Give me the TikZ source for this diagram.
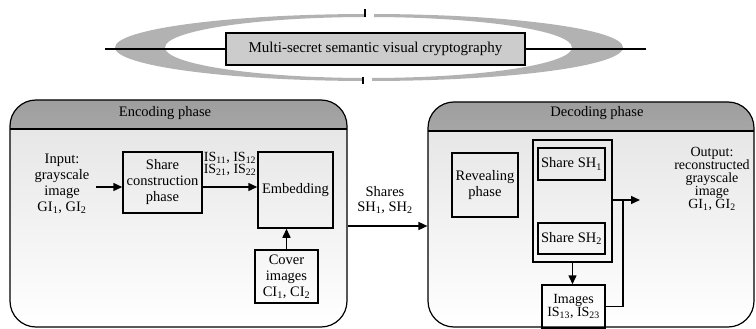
\documentclass[tikz,border=0pt]{standalone}
\usepackage{fontspec}
\setmainfont{Liberation Serif}
\usetikzlibrary{arrows.meta}

\newcommand{\lowidx}[1]{\textsubscript{#1}}

\begin{document}
\begin{tikzpicture}[
    x=1pt, y=-1pt,
    font=\fontsize{14.5}{16}\selectfont,
    box/.style={
        rectangle, draw=black, line width=1.5pt,
        align=center, inner sep=1pt
    },
    titlebox/.style={
        rectangle, draw=black, fill=black!20, line width=1.5pt,
        minimum width=299pt, minimum height=32pt,
        font=\fontsize{15}{17}\selectfont
    },
    panel/.style={
        rectangle, draw=black, line width=1.2pt, rounded corners=26pt,
        top color=black!11, bottom color=white,
        path picture={
            \shade[sharp corners, top color=black!38, bottom color=black!14]
                (path picture bounding box.north west) rectangle
                ([yshift=-29pt]path picture bounding box.north east);
            \draw[sharp corners, line width=1.2pt]
                ([yshift=-29pt]path picture bounding box.north west) --
                ([yshift=-29pt]path picture bounding box.north east);
        }
    },
    arr/.style={-{Triangle[length=9pt,width=8pt]}, line width=1.5pt},
    lnk/.style={line width=1.5pt}
]
\useasboundingbox (0,0) rectangle (756,329);

% --- Emblem (top) ---
\fill[black!30, even odd rule]
    (369,47.5) ellipse [x radius=254, y radius=33.5]
    (368.5,47.5) ellipse [x radius=203.5, y radius=30.5];
\fill[white] (366,11) rectangle (374,20);
\fill[white] (364,75) rectangle (372,84);
\draw[line width=1.5pt] (365,9) -- (365,17);
\draw[line width=1.5pt] (363,77) -- (363,84);

\node[titlebox] (title) at (375.5,49) {Multi-secret semantic visual cryptography};
\coordinate (lineL) at (105,49);
\coordinate (lineR) at (646,49);
\draw[line width=1.2pt] (lineL) -- (title.west);
\draw[line width=1.2pt] (title.east) -- (lineR);

% --- Panels ---
\node[panel, minimum width=337pt, minimum height=227pt] (enc) at (178.5,213.5) {};
\node[panel, minimum width=326pt, minimum height=225pt] (dec) at (591,214.5) {};
\node (enctitle) at (165,113) {Encoding phase};
\node (dectitle) at (597,113) {Decoding phase};

% --- Encoding phase ---
\node[align=center] (input) at (62,184) {Input:\\grayscale\\image\\GI\lowidx{1}, GI\lowidx{2}};
\node[box, minimum width=79pt, minimum height=61pt] (share) at (162.5,182.5)
    {Share\\construction\\phase};
\node[box, minimum width=75pt, minimum height=76pt] (embed) at (295.5,190) {Embedding};
\node[box, minimum width=63pt, minimum height=53pt] (cover) at (286.5,276.5)
    {Cover\\images\\CI\lowidx{1}, CI\lowidx{2}};
\node[align=center, font=\fontsize{14}{12.5}\selectfont] (islbl) at (230,164)
    {IS\lowidx{11}, IS\lowidx{12}\\IS\lowidx{21}, IS\lowidx{22}};

\coordinate (inarr) at (96,187);
\draw[arr] (inarr) -- (inarr -| share.west);
\draw[arr] (inarr -| share.east) -- (inarr -| embed.west);
\draw[arr] (cover.north) -- (cover.north |- embed.south);

% --- Encoding -> Decoding ---
\node[align=center, font=\fontsize{14.5}{15}\selectfont] (shrlbl) at (385,200)
    {Shares\\SH\lowidx{1}, SH\lowidx{2}};
\draw[arr] ([yshift=-12.5pt]enc.east) -- ([yshift=-12.5pt]enc.east -| dec.west);

% --- Decoding phase ---
\node[box, minimum width=66pt, minimum height=64pt] (reveal) at (485,185) {Revealing\\phase};
\node[box, minimum width=79pt, minimum height=122pt] (group) at (572.5,201) {};
\node[box, minimum width=67pt, minimum height=32pt] (sh1) at (571.5,164) {Share SH\lowidx{1}};
\node[box, minimum width=67pt, minimum height=31pt] (sh2) at (571.5,238.5) {Share SH\lowidx{2}};
\node[box, minimum width=63pt, minimum height=43pt, font=\fontsize{14}{13.5}\selectfont]
    (images) at (573.5,306.5) {Images\\IS\lowidx{13}, IS\lowidx{23}};
\node[align=center, font=\fontsize{14}{13}\selectfont] (output) at (712,179)
    {Output:\\reconstructed\\grayscale\\image\\GI\lowidx{1}, GI\lowidx{2}};

\coordinate (join) at (623,200);
\coordinate (outtip) at (640,200);
\draw[arr] (group.south) -- (group.south |- images.north);
\draw[lnk] (images.east) -| (join);
\draw[arr] (group.east |- outtip) -- (outtip);

\end{tikzpicture}
\end{document}
